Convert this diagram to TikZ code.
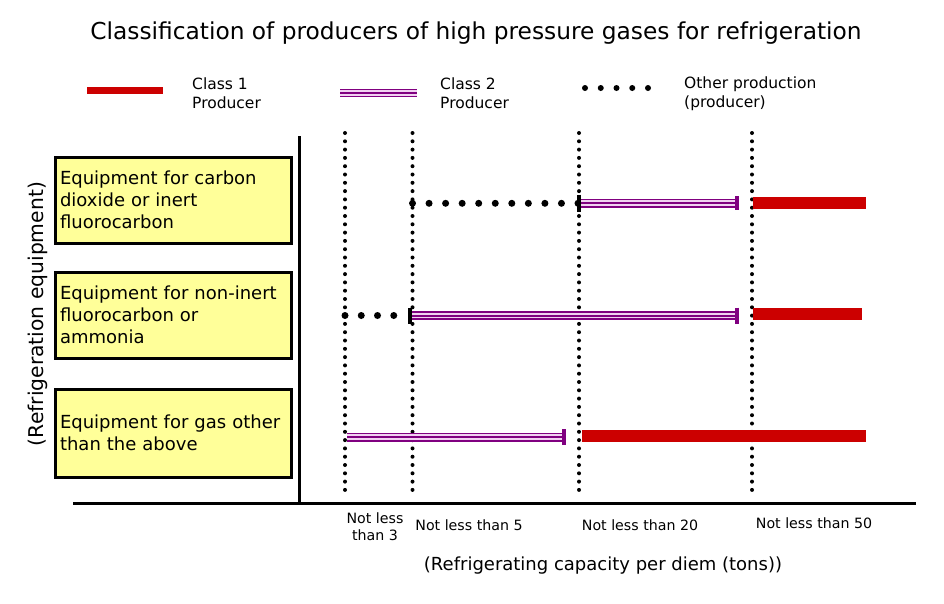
\documentclass[tikz,border=0pt]{standalone}
\usepackage{fontspec}
\setmainfont{DejaVu Sans}
\usetikzlibrary{calc}
\definecolor{cred}{HTML}{CC0000}
\definecolor{cpurple}{HTML}{800080}
\definecolor{cpink}{HTML}{F1D2F1}
\definecolor{cyellow}{HTML}{FFFF99}
\tikzset{
  eqbox/.style={draw=black, line width=3pt, fill=cyellow, align=left, text width=226pt,
    inner xsep=5pt, inner ysep=0pt, font=\fontsize{18}{22}\selectfont, anchor=center},
  gridline/.style={line width=4pt, line cap=round, dash pattern=on 0pt off 8.3pt},
  otherline/.style={line width=7pt, line cap=round},
  cone/.style={draw=cred, line width=12pt},
  ctwo/.style={draw=cpurple, line width=9pt, postaction={draw=cpink, line width=5.5pt},
    postaction={draw=cpurple, line width=2pt}},
  endbar/.style={draw=cpurple, line width=3.5pt},
  startbar/.style={draw=black, line width=3.5pt},
  axisline/.style={draw=black, line width=3pt},
  lgtext/.style={anchor=west, align=left, inner sep=0pt, font=\fontsize{15.5}{19}\selectfont},
  ticktext/.style={align=center, inner sep=0pt, font=\fontsize{14.2}{17}\selectfont}
}
\begin{document}
\begin{tikzpicture}[x=1pt,y=-1pt]
\useasboundingbox (0,0) rectangle (944,603);

% title
\node[font=\fontsize{23.3}{28}\selectfont] (title) at (476,33)
  {Classification of producers of high pressure gases for refrigeration};

% legend
\coordinate (lg1a) at (87,90);  \coordinate (lg1b) at (163,90);
\coordinate (lg2a) at (340,93); \coordinate (lg2b) at (417,93);
\coordinate (lg3a) at (585,88); \coordinate (lg3b) at (648,88);
\draw[cone, line width=7pt] (lg1a) -- (lg1b);
\draw[ctwo, line width=8pt] (lg2a) -- (lg2b);
\draw[otherline, line width=6pt, dash pattern=on 0pt off 15.75pt] (lg3a) -- (lg3b);
\node[lgtext] (lg1t) at (192,93.5) {Class 1\\Producer};
\node[lgtext] (lg2t) at (440,93.5) {Class 2\\Producer};
\node[lgtext] (lg3t) at (684,93.5) {Other production\\(producer)};

% equipment boxes
\node[eqbox, minimum height=86pt] (box1) at (173,200) {Equipment for carbon\\dioxide or inert\\fluorocarbon};
\node[eqbox, minimum height=86pt] (box2) at (173,315) {Equipment for non-inert\\fluorocarbon or\\ammonia};
\node[eqbox, minimum height=88pt] (box3) at (173,433) {Equipment for gas other\\than the above};

% y label
\node[rotate=90, font=\fontsize{20.3}{24}\selectfont] (ylab) at (38,314) {(Refrigeration equipment)};

% axes
\coordinate (yaxT) at (299,136);
\coordinate (orig) at (299,503);
\coordinate (xaxL) at (73,503);
\coordinate (xaxR) at (916,503);
\draw[axisline] (yaxT) -- (orig);
\draw[axisline] (xaxL) -- (xaxR);

% vertical dotted lines
\coordinate (v3t) at (345,133);   \coordinate (v3b) at (345,497);
\coordinate (v5t) at (412.5,133); \coordinate (v5b) at (412.5,497);
\coordinate (v20t) at (579,133);  \coordinate (v20b) at (579,497);
\coordinate (v50t) at (752,133);  \coordinate (v50b) at (752,497);
\draw[gridline] (v3t) -- (v3b);
\draw[gridline] (v5t) -- (v5b);
\draw[gridline] (v20t) -- (v20b);
\draw[gridline] (v50t) -- (v50b);

% row 1
\coordinate (r1o1) at (412.5,203.3); \coordinate (r1o2) at (578,203.3);
\coordinate (r1c1) at (579,203);     \coordinate (r1c2) at (737,203);
\coordinate (r1r1) at (753,203.3);   \coordinate (r1r2) at (866,203.3);
\draw[otherline, dash pattern=on 0pt off 16.55pt] (r1o1) -- (r1o2);
\draw[ctwo] (r1c1) -- (r1c2);
\draw[startbar] ($(r1c1)+(0,-8.5)$) -- ($(r1c1)+(0,8.5)$);
\draw[endbar] ($(r1c2)+(0,-7)$) -- ($(r1c2)+(0,7)$);
\draw[cone] (r1r1) -- (r1r2);

% row 2
\coordinate (r2o1) at (345,315.5);   \coordinate (r2o2) at (410,315.5);
\coordinate (r2c1) at (410,315.5);   \coordinate (r2c2) at (737,315.5);
\coordinate (r2r1) at (753,313.5);   \coordinate (r2r2) at (862,313.5);
\draw[otherline, dash pattern=on 0pt off 16.25pt] (r2o1) -- (r2o2);
\draw[ctwo] (r2c1) -- (r2c2);
\draw[startbar] ($(r2c1)+(0,-8)$) -- ($(r2c1)+(0,8)$);
\draw[endbar] ($(r2c2)+(0,-8)$) -- ($(r2c2)+(0,8)$);
\draw[cone] (r2r1) -- (r2r2);

% row 3
\coordinate (r3c1) at (347,437);   \coordinate (r3c2) at (564,437);
\coordinate (r3r1) at (581.5,436); \coordinate (r3r2) at (866,436);
\draw[ctwo] (r3c1) -- (r3c2);
\draw[endbar] ($(r3c2)+(0,-8)$) -- ($(r3c2)+(0,8)$);
\draw[cone] (r3r1) -- (r3r2);

% tick labels
\node[ticktext] (t3) at (375,527) {Not less\\than 3};
\node[ticktext] (t5) at (469,525) {Not less than 5};
\node[ticktext] (t20) at (640,525) {Not less than 20};
\node[ticktext] (t50) at (814,523) {Not less than 50};

% x label
\node[font=\fontsize{18}{21}\selectfont] (xlab) at (603,566) {(Refrigerating capacity per diem (tons))};
\end{tikzpicture}
\end{document}
